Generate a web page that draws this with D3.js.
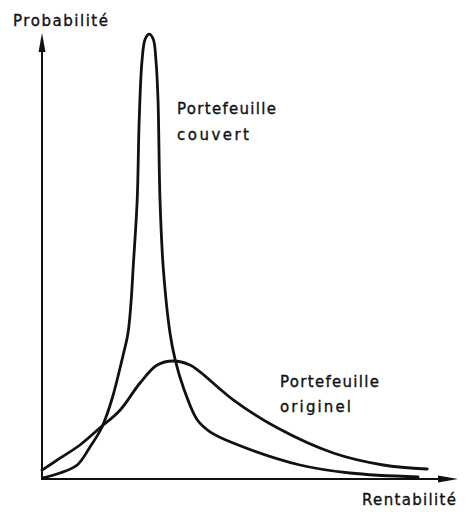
<!DOCTYPE html>
<html>
<head>
<meta charset="utf-8">
<script src="https://cdn.jsdelivr.net/npm/d3@7"></script>
<style>
  body { margin: 0; background: #fff; }
  text { font-family: "DejaVu Sans", "Liberation Sans", sans-serif; fill: #111; stroke: #111; stroke-width: 0.35; }
</style>
</head>
<body>
<div id="chart"></div>
<script>
var width = 466;
var height = 512;

// rentabilité (x) / probabilité (y)
var couvertX = [0.03, 0.45, 0.88, 1.2, 1.5, 1.75, 2.0, 2.15, 2.23, 2.28, 2.38, 2.43, 2.5, 2.58, 2.68,
                2.78, 2.85, 2.9, 2.95, 3.03, 3.2, 3.33, 3.53, 3.88, 4.2, 4.78, 6.45, 7.7, 9.4];
var couvertY = [0.03, 0.15, 0.35, 0.8, 1.3, 2.0, 2.98, 3.65, 4.48, 5.3, 6.98, 8.98, 10.45, 11.0, 11.12,
                11.0, 10.45, 9.48, 6.98, 5.3, 3.65, 2.98, 2.3, 1.48, 1.18, 0.9, 0.35, 0.15, 0.05];

var origX = [0, 0.45, 0.95, 1.45, 1.95, 2.45, 2.88, 3.28, 3.7, 3.95, 4.78, 5.88, 7.28, 8.53, 9.63];
var origY = [0.22, 0.52, 0.85, 1.28, 1.72, 2.4, 2.85, 2.95, 2.85, 2.68, 1.98, 1.28, 0.65, 0.35, 0.25];

var axisNames = ["Probabilité", "Rentabilité"];
var curveNames = [["Portefeuille", "couvert"], ["Portefeuille", "originel"]];

var svg = d3.select("#chart").append("svg")
  .attr("width", width)
  .attr("height", height);

var x = d3.scaleLinear().domain([0, 10.4]).range([42, 458]);
var y = d3.scaleLinear().domain([0, 11.15]).range([479, 33]);

// axes with arrow heads
var x0 = x.range()[0], x1 = x.range()[1];
var y0 = y.range()[0], y1 = y.range()[1];

svg.append("line")
  .attr("x1", x0).attr("y1", y0).attr("x2", x0).attr("y2", y1 + 10)
  .attr("stroke", "#111").attr("stroke-width", 2);
svg.append("line")
  .attr("x1", x0 - 1).attr("y1", y0).attr("x2", x1 - 10).attr("y2", y0)
  .attr("stroke", "#111").attr("stroke-width", 2);

svg.append("path")
  .attr("d", "M" + x0 + "," + y1 + "L" + (x0 + 3.5) + "," + (y1 + 19) + "L" + (x0 - 3.5) + "," + (y1 + 19) + "Z")
  .attr("fill", "#111");
svg.append("path")
  .attr("d", "M" + x1 + "," + y0 + "L" + (x1 - 20) + "," + (y0 - 3.5) + "L" + (x1 - 20) + "," + (y0 + 3.5) + "Z")
  .attr("fill", "#111");

var line = d3.line()
  .x(function(d) { return x(d[0]); })
  .y(function(d) { return y(d[1]); })
  .curve(d3.curveCatmullRom.alpha(0.5));

var series = [d3.zip(couvertX, couvertY), d3.zip(origX, origY)];

svg.selectAll(".curve")
  .data(series)
  .enter().append("path")
    .attr("class", "curve")
    .attr("d", line)
    .attr("fill", "none")
    .attr("stroke", "#111")
    .attr("stroke-width", 2.8)
    .attr("stroke-linecap", "round");

// labels
function label(txt, px, py, len) {
  svg.append("text")
    .attr("x", px).attr("y", py)
    .attr("font-size", 15)
    .attr("textLength", len)
    .attr("lengthAdjust", "spacing")
    .text(txt);
}

label(axisNames[0], 13, 26, 95);
label(axisNames[1], 362, 505, 94);
label(curveNames[0][0], 177, 114, 99);
label(curveNames[0][1], 177, 140, 72);
label(curveNames[1][0], 280, 387, 99);
label(curveNames[1][1], 280, 412, 71);
</script>
</body>
</html>
